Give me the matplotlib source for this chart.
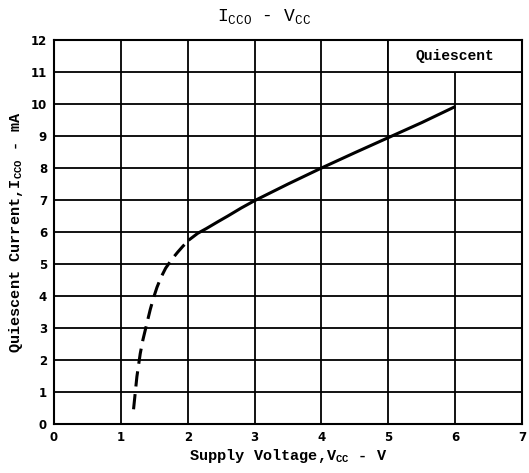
import matplotlib
matplotlib.use("Agg")
import matplotlib.pyplot as plt
from matplotlib.patches import Rectangle

# data
dash_v = [1.19, 1.24, 1.29, 1.33, 1.39, 1.44, 1.49, 1.54, 1.60, 1.67, 1.76, 1.85, 1.93, 2.03]
dash_i = [0.46, 1.48, 2.20, 2.63, 3.15, 3.58, 3.95, 4.27, 4.58, 4.87, 5.14, 5.37, 5.56, 5.77]
solid_v = [2.03, 2.15, 2.28, 2.45, 2.6, 2.8, 3.0, 3.5, 4.0, 4.5, 5.0, 5.5, 5.98]
solid_i = [5.77, 5.96, 6.11, 6.32, 6.5, 6.75, 6.98, 7.5, 8.0, 8.48, 8.95, 9.42, 9.9]
xticks = [0, 1, 2, 3, 4, 5, 6, 7]
yticks = list(range(0, 13))

fig = plt.figure(figsize=(5.29, 4.73), dpi=100)
ax = fig.add_axes([0.102, 0.1036, 0.885, 0.8118])
ax.set_xlim(0, 7)
ax.set_ylim(0, 12)
ax.set_xticks(xticks)
ax.set_yticks(yticks)
ax.set_xticklabels([str(t) for t in xticks], fontsize=8.5, fontweight="bold")
ax.set_yticklabels([str(t) for t in yticks], fontsize=8.5, fontweight="bold")
ax.tick_params(length=0, pad=5)
ax.grid(True, color="black", linewidth=1.3)
for s in ax.spines.values():
    s.set_linewidth(1.5)
    s.set_color("black")

ax.add_patch(Rectangle((5, 11), 2, 1, facecolor="white", edgecolor="black",
                       linewidth=1.3, zorder=2.5))
ax.text(6, 11.5, "Quiescent", ha="center", va="center", fontsize=10.5,
        fontweight="bold", family="Liberation Mono", zorder=3)

ax.plot(dash_v, dash_i, color="black", linewidth=2.2, dashes=(5, 2.5), zorder=4)
ax.plot(solid_v, solid_i, color="black", linewidth=2.2, zorder=4)

fig.text(0.5, 0.965, r"I$_{\mathregular{CCO}}$ - V$_{\mathregular{CC}}$", ha="center", va="center",
         fontsize=13, family="Liberation Mono")
ax.set_xlabel(r"Supply Voltage,V$_{\mathregular{CC}}$ - V", fontsize=11, fontweight="bold",
              family="Liberation Mono", labelpad=2)
ax.set_ylabel(r"Quiescent Current,I$_{\mathregular{CCO}}$ - mA", fontsize=11, fontweight="bold",
              family="Liberation Mono", labelpad=4)

fig.savefig("out.png", dpi=100)
